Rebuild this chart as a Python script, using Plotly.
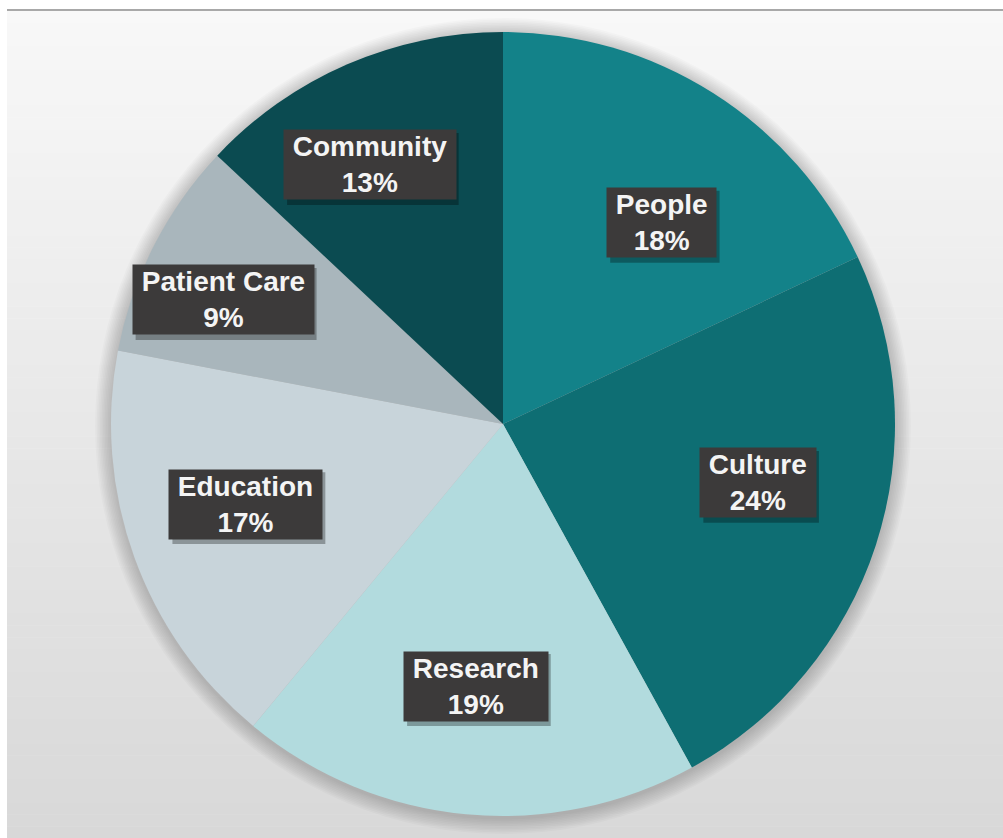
import math
import plotly.graph_objects as go

# ---- data ----
categories = ["People", "Culture", "Research", "Education", "Patient Care", "Community"]
shares = [18, 24, 19, 17, 9, 13]
slice_colors = ["#138289", "#0E6E73", "#B2DBDE", "#C8D4DA", "#A9B6BC", "#0B4B51"]

# ---- label placement (radius fraction, angular nudge in degrees) ----
label_radius = [0.654, 0.668, 0.672, 0.687, 0.781, 0.743]
label_nudge = [5.9, -5.0, 0.5, 2.5, -3.1, -3.8]

W, H = 1003, 838
CX, CY, R = 503, 424, 392  # pie centre / radius in pixels
FONT_SIZE = 28
BORDER_PAD = 1

# Arial Bold advance widths (em) used to size the label drop shadows
CHAR_W = {
    "P": .667, "e": .556, "o": .611, "p": .611, "l": .278, "C": .722, "u": .611,
    "t": .333, "r": .389, "R": .722, "s": .556, "a": .556, "c": .556, "h": .611,
    "E": .667, "d": .611, "i": .278, "n": .611, "m": .889, "y": .556, " ": .278,
    "%": .889,
}


def text_width(s):
    return sum(CHAR_W.get(ch, .556) for ch in s) * FONT_SIZE


def px_x(x):
    return x / W


def px_y(y):
    return 1 - y / H


fig = go.Figure()

fig.add_trace(go.Pie(
    labels=categories,
    values=shares,
    marker=dict(colors=slice_colors, line=dict(width=0)),
    sort=False,
    direction="clockwise",
    rotation=0,
    textinfo="none",
    hoverinfo="label+percent",
    showlegend=False,
    domain=dict(x=[px_x(CX - R), px_x(CX + R)], y=[px_y(CY + R), px_y(CY - R)]),
))

shapes = []

# white surround, then the panel with a vertical grey gradient
shapes.append(dict(type="rect", xref="paper", yref="paper", x0=0, x1=1, y0=0, y1=1,
                   fillcolor="#ffffff", line=dict(width=0), layer="below"))
top, left = 11, 7
bands = 70
for i in range(bands):
    y0 = top + (H - top) * i / bands
    y1 = top + (H - top) * (i + 1) / bands + 0.5
    t = (i + 0.5) / bands
    g = round(248 - 32 * t)
    shapes.append(dict(type="rect", xref="paper", yref="paper",
                       x0=px_x(left), x1=1, y0=px_y(y1), y1=px_y(y0),
                       fillcolor=f"rgb({g},{g},{g})", line=dict(width=0), layer="below"))
# top border line of the panel
shapes.append(dict(type="rect", xref="paper", yref="paper",
                   x0=px_x(left), x1=1, y0=px_y(11), y1=px_y(9),
                   fillcolor="#a8a8a8", line=dict(width=0), layer="below"))

# soft shadow around the pie
for k in range(10, 0, -1):
    rr = R + 1.6 * k
    shapes.append(dict(type="circle", xref="paper", yref="paper",
                       x0=px_x(CX - rr), x1=px_x(CX + rr),
                       y0=px_y(CY + 2 + rr), y1=px_y(CY + 2 - rr),
                       fillcolor="rgba(0,0,0,0.018)", line=dict(width=0), layer="below"))

annotations = []
total = sum(shares)
cum = 0
for name, v, rf, nd in zip(categories, shares, label_radius, label_nudge):
    mid = (cum + v / 2) / total * 360 + nd
    cum += v
    lx = CX + rf * R * math.sin(math.radians(mid))
    ly = CY - rf * R * math.cos(math.radians(mid))
    pct = round(v / total * 100)
    text = f"<b>\u00a0{name}\u00a0</b><br><b>{pct}%</b>"

    # drop shadow of the label box, offset down and to the right
    bw = text_width(f" {name} ") + 2 * BORDER_PAD
    bh = 2 * 1.3 * FONT_SIZE * 0.96 + 2 * BORDER_PAD
    sx, sy = lx + 3, ly + 4
    shapes.append(dict(type="rect", xref="paper", yref="paper",
                       x0=px_x(sx - bw / 2), x1=px_x(sx + bw / 2),
                       y0=px_y(sy + bh / 2), y1=px_y(sy - bh / 2),
                       fillcolor="rgba(0,0,0,0.30)", line=dict(width=0), layer="above"))

    annotations.append(dict(x=px_x(lx), y=px_y(ly), xref="paper", yref="paper",
                            xanchor="center", yanchor="middle",
                            text=text, showarrow=False, bgcolor="#3c3a3a",
                            borderpad=BORDER_PAD,
                            font=dict(family="Liberation Sans, Arial", size=FONT_SIZE,
                                      color="#f4f4f4")))

fig.update_layout(
    width=W, height=H,
    margin=dict(l=0, r=0, t=0, b=0),
    paper_bgcolor="#ffffff",
    plot_bgcolor="rgba(0,0,0,0)",
    shapes=shapes,
    annotations=annotations,
)

fig.write_html("out.html")
